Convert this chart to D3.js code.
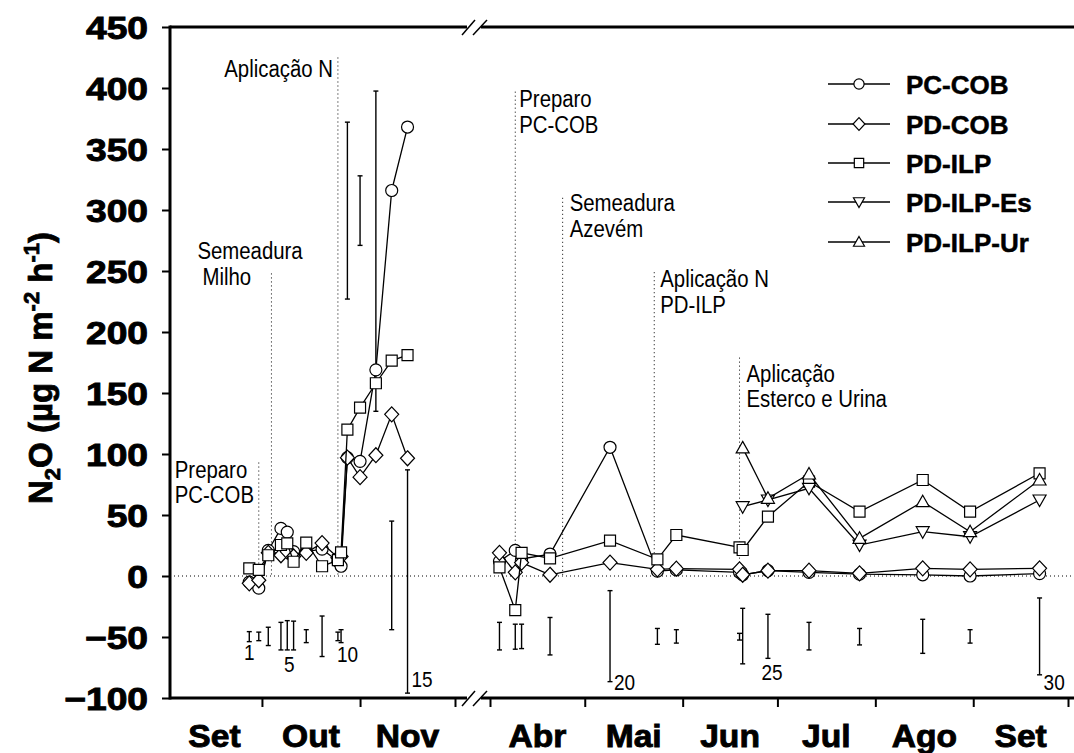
<!DOCTYPE html>
<html><head><meta charset="utf-8">
<script src="https://cdn.jsdelivr.net/npm/d3@7"></script>
<style>body{margin:0;background:#fff}svg{display:block}</style>
</head><body>
<svg id="chart" width="1074" height="753"></svg>
<script>
// ---------------- DATA ----------------
const datesLeft = ["2012-09-27","2012-09-30","2012-10-03","2012-10-07","2012-10-09","2012-10-11","2012-10-15","2012-10-20","2012-10-25","2012-10-26","2012-10-28","2012-11-01","2012-11-06","2012-11-11","2012-11-16"];
const datesRight = ["2013-04-04","2013-04-09","2013-04-11","2013-04-20","2013-05-09","2013-05-24","2013-05-30","2013-06-19","2013-06-20","2013-06-28","2013-07-11","2013-07-27","2013-08-16","2013-08-31","2013-09-22"];

const seriesNames = ["PC-COB","PD-COB","PD-ILP","PD-ILP-Es","PD-ILP-Ur"];
const seriesShapes = ["circle","diamond","square","triDown","triUp"];

const pcCobLeft  = [-5,-10,21,39,36,20,20,22,12,8,97,94,169,316,368];
const pcCobRight = [12,21,14,18,105.5,4,5,3,1,4.4,3,1.5,1,0,2];
const pdCobLeft  = [-6,-3.5,19,17,20,16,19,27,15,16,97,81,99,132.5,96.5];
const pdCobRight = [19,3,11,1,11,5.5,6,5.5,1,4.4,4.4,2.2,6.3,5.5,6.3];
const pdIlpLeft  = [6.3,5,17,25.4,26.8,11.7,27.3,8,13,19.4,120,138,158,176.5,181];
const pdIlpRight = [7,-28,19,14.5,29,13.7,33.6,23.5,21.3,48.6,77.3,52.7,78.7,52.7,84.2];
const esLeft     = [null,null,null,null,null,null,null,null,null,null,null,null,null,null,null];
const esRight    = [null,null,null,null,null,null,null,null,56.8,62.3,71.9,25.4,36.3,32.2,62.3];
const urLeft     = [null,null,null,null,null,null,null,null,null,null,null,null,null,null,null];
const urRight    = [null,null,null,null,null,null,null,null,105,63.7,83.6,30.9,60.9,36.3,78.7];

// error bars (least significant difference) per sampling 1..30
const errLow  = [-53.8,-53,-57,-60.6,-60.6,-60.6,-54.6,-66,-53,-54.6,227,271,135,-44,-96,
                 -60.6,-60,-59.5,-64.7,-86.6,-56,-55,-52.5,-72,-67.5,-60.6,-56.5,-63.4,-55,-81];
const errHigh = [-45.6,-46,-42,-38,-36.6,-37,-44,-32.8,-46,-44,372,328,397.5,45,87,
                 -38,-39.5,-39.5,-34,-12,-43,-44,-47,-26.5,-31.4,-38,-43,-35.5,-44,-18];
const errLabels = ["1","5","10","15","20","25","30"];
const errLabelIdx = [0,4,9,14,19,24,29];

const yTicks = [-100,-50,0,50,100,150,200,250,300,350,400,450];
const monthsLeft = ["Set","Out","Nov"];
const monthBoundsLeft = ["2012-09-01","2012-10-01","2012-11-01","2012-12-01"];
const monthsRight = ["Abr","Mai","Jun","Jul","Ago","Set"];
const monthBoundsRight = ["2013-04-01","2013-05-01","2013-06-01","2013-07-01","2013-08-01","2013-09-01","2013-10-01"];

const eventDates = ["2012-09-30","2012-10-04","2012-10-25","2013-04-09","2013-04-24","2013-05-23","2013-06-19"];
const eventTops  = [93,248,425,397,310,249,179];
const eventLabels = [["Preparo","PC-COB"],["Semeadura","Milho"],["Aplicação N"],["Preparo","PC-COB"],["Semeadura","Azevém"],["Aplicação N","PD-ILP"],["Aplicação","Esterco e Urina"]];

// ---------------- LAYOUT ----------------
const W = 1074, H = 753;
const svg = d3.select("#chart");
const parse = d3.timeParse("%Y-%m-%d");
const FONT = "'Liberation Sans', Arial, Helvetica, sans-serif";

const xL = d3.scaleTime().domain([parse("2012-09-01"), parse("2012-12-01")]).range([167, 455]);
const xR = d3.scaleTime().domain([parse("2013-04-01"), parse("2013-10-01")]).range([490, 1068]);
const y = d3.scaleLinear().domain([-100, 450]).range([698, 27]);

const axisX0 = 170, axisY0 = y(-100), topY = y(450);
const leftEnd = 467, rightStart = 481;

const allDates = datesLeft.map(d => xL(parse(d))).concat(datesRight.map(d => xR(parse(d))));

// zero dotted line
svg.append("line").attr("x1", axisX0).attr("x2", W).attr("y1", y(0)).attr("y2", y(0))
  .attr("stroke", "#000").attr("stroke-width", 1).attr("stroke-dasharray", "1,3");

// event lines + labels
const evPos = [
  {anchor:"start", lines:[[-84,15],[-84,40]]},
  {anchor:"start", lines:[[-74,-14],[-69,12]]},
  {anchor:"end",   lines:[[-5,19]]},
  {anchor:"start", lines:[[4,15],[4,41]]},
  {anchor:"start", lines:[[7,13],[7,39]]},
  {anchor:"start", lines:[[6,15],[6,41]]},
  {anchor:"start", lines:[[7,24],[7,49]]}
];
eventDates.forEach((d, i) => {
  const dt = parse(d);
  const ex = i < 3 ? xL(dt) : xR(dt);
  const ty = y(eventTops[i]);
  svg.append("line").attr("x1", ex).attr("x2", ex).attr("y1", ty).attr("y2", y(0))
    .attr("stroke", "#000").attr("stroke-width", 1).attr("stroke-dasharray", "1,3");
  eventLabels[i].forEach((t, j) => {
    const p = evPos[i].lines[j];
    svg.append("text").attr("transform", `translate(${ex + p[0]},${ty + p[1]}) scale(0.97,1.15)`)
      .attr("text-anchor", evPos[i].anchor).attr("font-family", FONT).attr("font-size", 21)
      .attr("fill", "#000").text(t);
  });
});

// error bars
errLow.forEach((lo, i) => {
  const ex = allDates[i];
  const g = svg.append("g").attr("stroke", "#000").attr("stroke-width", 1.4);
  g.append("line").attr("x1", ex).attr("x2", ex).attr("y1", y(lo)).attr("y2", y(errHigh[i]));
  g.append("line").attr("x1", ex - 2.5).attr("x2", ex + 2.5).attr("y1", y(lo)).attr("y2", y(lo));
  g.append("line").attr("x1", ex - 2.5).attr("x2", ex + 2.5).attr("y1", y(errHigh[i])).attr("y2", y(errHigh[i]));
});
const errLabPos = [[0,18,"middle"],[2,22,"middle"],[-4,19,"start"],[4,-6,"start"],[4,8,"start"],[4,22,"middle"],[4,15,"start"]];
errLabels.forEach((t, k) => {
  const i = errLabelIdx[k];
  const p = errLabPos[k];
  svg.append("text").attr("transform", `translate(${allDates[i] + p[0]},${y(errLow[i]) + p[1]}) scale(1,1.12)`)
    .attr("text-anchor", p[2]).attr("font-family", FONT).attr("font-size", 19).text(t);
});

// markers
function shapePath(s, k) {
  k = k || 1;
  const r = 6 * k;
  switch (s) {
    case "circle": return `M${-r},0a${r},${r} 0 1,0 ${2*r},0a${r},${r} 0 1,0 ${-2*r},0Z`;
    case "square": { const a = 5.5 * k; return `M${-a},${-a}h${2*a}v${2*a}h${-2*a}Z`; }
    case "diamond": return `M0,${-7.5*k}L${7*k},0L0,${7.5*k}L${-7*k},0Z`;
    case "triDown": return `M${-6.5*k},${-5*k}L${6.5*k},${-5*k}L0,${6.5*k}Z`;
    case "triUp": return `M0,${-6.5*k}L${6.5*k},${5*k}L${-6.5*k},${5*k}Z`;
  }
}

const seriesLeft = [pcCobLeft, pdCobLeft, pdIlpLeft, esLeft, urLeft];
const seriesRight = [pcCobRight, pdCobRight, pdIlpRight, esRight, urRight];
const line = d3.line().defined(d => d.v != null).x(d => d.x).y(d => y(d.v));

seriesNames.forEach((name, s) => {
  const g = svg.append("g");
  const segs = [
    datesLeft.map((d, i) => ({x: xL(parse(d)), v: seriesLeft[s][i]})),
    datesRight.map((d, i) => ({x: xR(parse(d)), v: seriesRight[s][i]}))
  ];
  segs.forEach(seg => {
    g.append("path").attr("d", line(seg)).attr("fill", "none").attr("stroke", "#000").attr("stroke-width", 1.3);
  });
  segs.forEach(seg => {
    seg.filter(d => d.v != null).forEach(d => {
      g.append("path").attr("d", shapePath(seriesShapes[s])).attr("transform", `translate(${d.x},${y(d.v)})`)
        .attr("fill", "#fff").attr("stroke", "#000").attr("stroke-width", 1.2);
    });
  });
});

// axes
const ax = svg.append("g").attr("stroke", "#000").attr("fill", "none");
ax.append("line").attr("x1", axisX0).attr("x2", axisX0).attr("y1", topY - 1.5).attr("y2", axisY0 + 1.5).attr("stroke-width", 3);
ax.append("line").attr("x1", axisX0).attr("x2", leftEnd).attr("y1", axisY0).attr("y2", axisY0).attr("stroke-width", 3);
ax.append("line").attr("x1", rightStart).attr("x2", W).attr("y1", axisY0).attr("y2", axisY0).attr("stroke-width", 3);
ax.append("line").attr("x1", axisX0).attr("x2", leftEnd).attr("y1", topY).attr("y2", topY).attr("stroke-width", 3);
ax.append("line").attr("x1", rightStart).attr("x2", W).attr("y1", topY).attr("y2", topY).attr("stroke-width", 3);
// break marks
[axisY0, topY].forEach(yy => {
  [[462, 475], [473, 487]].forEach(b => {
    ax.append("line").attr("x1", b[0]).attr("x2", b[1]).attr("y1", yy + 8).attr("y2", yy - 7).attr("stroke-width", 1.5);
  });
});

// y axis
const yAxis = d3.axisLeft(y).tickValues(yTicks).tickSize(8).tickPadding(14);
const yg = svg.append("g").attr("transform", `translate(${axisX0},0)`).call(yAxis);
yg.select(".domain").remove();
yg.selectAll(".tick line").attr("stroke", "#000").attr("stroke-width", 2);
yg.selectAll(".tick text").attr("font-family", FONT).attr("font-size", 31).attr("font-weight", "bold")
  .attr("fill", "#000").attr("stroke", "#000").attr("stroke-width", 0.9)
  .attr("dy", "0.36em").attr("x", -22 / 1.2).attr("transform", "scale(1.2,1)");

// x axes
const xgL = svg.append("g").attr("transform", `translate(0,${axisY0})`)
  .call(d3.axisBottom(xL).tickValues(monthBoundsLeft.slice(1).map(parse)).tickSize(9).tickFormat(""));
const xgR = svg.append("g").attr("transform", `translate(0,${axisY0})`)
  .call(d3.axisBottom(xR).tickValues(monthBoundsRight.map(parse)).tickSize(9).tickFormat(""));
[xgL, xgR].forEach(g => {
  g.select(".domain").remove();
  g.selectAll(".tick line").attr("stroke", "#000").attr("stroke-width", 2);
});
function monthLabels(names, bounds, sc) {
  names.forEach((m, i) => {
    const cx = (sc(parse(bounds[i])) + sc(parse(bounds[i + 1]))) / 2;
    svg.append("text").attr("transform", `translate(${cx},747) scale(1.05,1)`).attr("text-anchor", "middle")
      .attr("font-family", FONT).attr("font-size", 32).attr("font-weight", "bold")
      .attr("stroke", "#000").attr("stroke-width", 0.9).text(m);
  });
}
monthLabels(monthsLeft, monthBoundsLeft, xL);
monthLabels(monthsRight, monthBoundsRight, xR);

// y title
const yt = svg.append("text").attr("transform", "translate(52,368) rotate(-90)")
  .attr("text-anchor", "middle").attr("font-family", FONT).attr("font-size", 33).attr("font-weight", "bold")
  .attr("stroke", "#000").attr("stroke-width", 0.8);
yt.append("tspan").text("N");
yt.append("tspan").attr("font-size", 22).attr("dy", 8).text("2");
yt.append("tspan").attr("dy", -8).text("O (µg N m");
yt.append("tspan").attr("font-size", 22).attr("dy", -13).text("-2");
yt.append("tspan").attr("dy", 13).text(" h");
yt.append("tspan").attr("font-size", 22).attr("dy", -13).text("-1");
yt.append("tspan").attr("dy", 13).text(")");

// legend
const legY = [84, 124, 163, 202, 242];
seriesNames.forEach((name, s) => {
  const g = svg.append("g").attr("transform", `translate(0,${legY[s]})`);
  g.append("line").attr("x1", 828).attr("x2", 890).attr("y1", 0).attr("y2", 0).attr("stroke", "#000").attr("stroke-width", 1.3);
  g.append("path").attr("d", shapePath(seriesShapes[s], 0.85)).attr("transform", "translate(859,0)")
    .attr("fill", "#fff").attr("stroke", "#000").attr("stroke-width", 1.2);
  g.append("text").attr("x", 906).attr("y", 9.5).attr("font-family", FONT).attr("font-size", 26)
    .attr("font-weight", "bold").attr("stroke", "#000").attr("stroke-width", 0.5).text(name);
});
</script>
</body></html>
